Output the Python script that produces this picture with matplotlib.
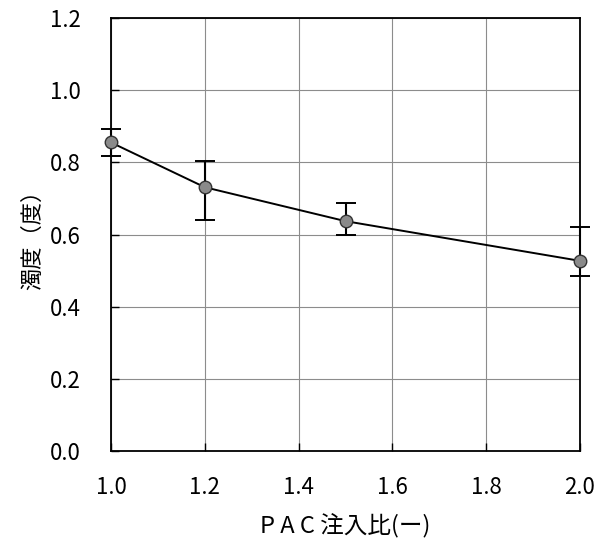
import numpy as np
import matplotlib.pyplot as plt

plt.rcParams['font.family'] = ['Noto Sans CJK JP', 'DejaVu Sans']

# PAC注入比 と 濁度
pac_ratio = [1.0, 1.2, 1.5, 2.0]
turbidity = [0.855, 0.731, 0.637, 0.527]
err_low = [0.037, 0.092, 0.038, 0.041]
err_high = [0.037, 0.074, 0.050, 0.095]

x_ticks = [1.0, 1.2, 1.4, 1.6, 1.8, 2.0]
y_ticks = [0.0, 0.2, 0.4, 0.6, 0.8, 1.0, 1.2]

fig = plt.figure(figsize=(5.97, 5.46), dpi=100)
ax = fig.add_axes([0.186, 0.174, 0.7855, 0.793])

ax.errorbar(pac_ratio, turbidity, yerr=[err_low, err_high], color='black', lw=1.4,
            marker='o', markersize=9, markerfacecolor='#8a8a8a', markeredgecolor='#333333',
            capsize=7, capthick=1.4, elinewidth=1.5, zorder=3, clip_on=False)

ax.set_xlim(1.0, 2.0)
ax.set_ylim(0.0, 1.2)
ax.set_xticks(x_ticks)
ax.set_yticks(y_ticks)
ax.set_xticklabels(['%.1f' % v for v in x_ticks])
ax.set_yticklabels(['%.1f' % v for v in y_ticks])
ax.tick_params(direction='in', length=6, width=1, labelsize=16)
ax.tick_params(axis='y', pad=22)
ax.tick_params(axis='x', pad=18)
ax.grid(True, color='#8c8c8c', lw=0.8)
for s in ax.spines.values():
    s.set_linewidth(1.3)

ax.set_xlabel('P A C 注入比(ー)', fontsize=17, labelpad=11)
ax.set_ylabel('濁度（度）', fontsize=16, labelpad=4)

fig.savefig('out.png', dpi=100)
